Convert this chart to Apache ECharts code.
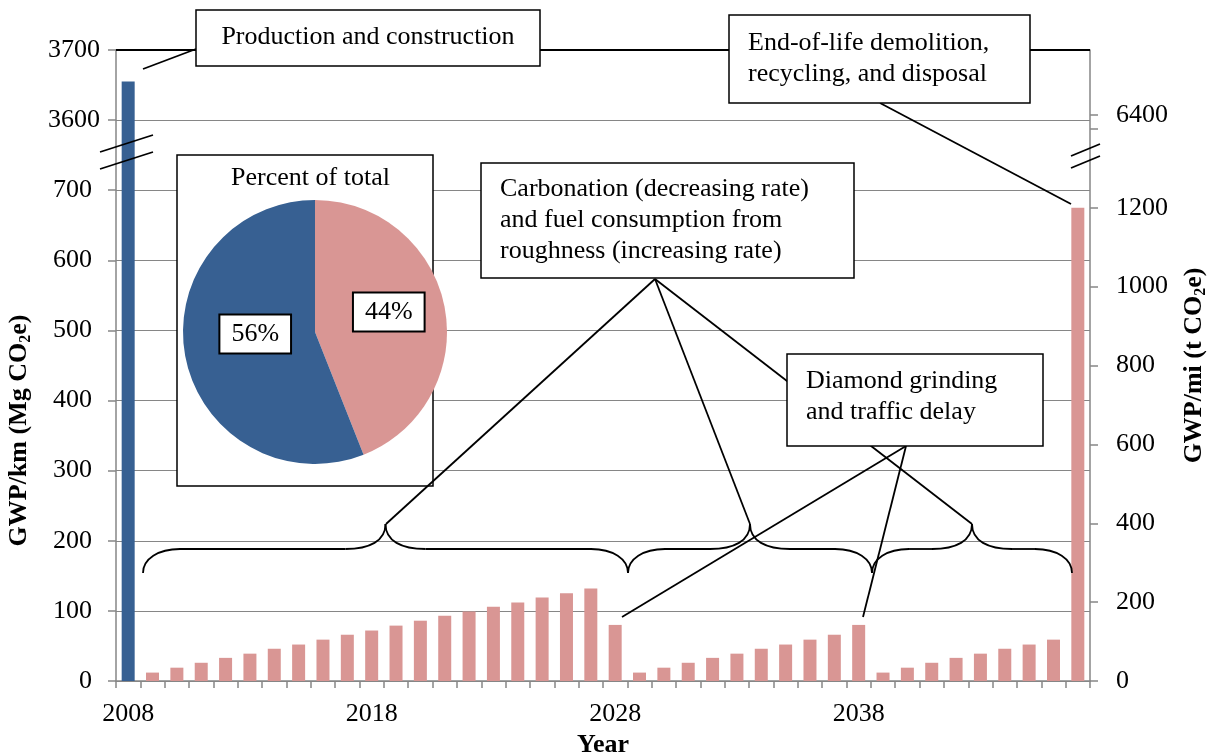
<!DOCTYPE html>
<html><head><meta charset="utf-8">
<script src="https://cdn.jsdelivr.net/npm/echarts@6/dist/echarts.min.js"></script>
<style>html,body{margin:0;padding:0;background:#fff}#c{width:1211px;height:755px}</style>
</head><body><div id="c"></div>
<script>
// ---------------- data ----------------
const years = ['2008','2009','2010','2011','2012','2013','2014','2015','2016','2017',
  '2018','2019','2020','2021','2022','2023','2024','2025','2026','2027',
  '2028','2029','2030','2031','2032','2033','2034','2035','2036','2037',
  '2038','2039','2040','2041','2042','2043','2044','2045','2046','2047'];
const productionValue = 3655;            // 2008, Mg CO2e / km
const useValues = [12,19,26,33,39,46,52,59,66,72,79,86,93,99,106,112,119,125,132,80,   // 2009-2028
  12,19,26,33,39,46,52,59,66,80,                                                         // 2029-2038
  12,19,26,33,39,46,52,59];                                                              // 2039-2046
const endOfLifeValue = 675;              // 2047
const pieNames = ['Use and end-of-life', 'Production and construction'];
const pieValues = [44, 56];
const leftTickLabels = [0,100,200,300,400,500,600,700,3600,3700];
const rightTickLabels = [0,200,400,600,800,1000,1200];
const rightBreakLabel = 6400;

// broken axes: values above the break are shifted down
const LEFT_BREAK = 700, LEFT_SHIFT = 2800;
const toLeft = v => v > LEFT_BREAK ? v - LEFT_SHIFT : v;
const fromLeft = v => v > LEFT_BREAK ? v + LEFT_SHIFT : v;
const RIGHT_BREAK = 1400, RIGHT_SHIFT = 4965;
const toRight = v => v > RIGHT_BREAK ? v - RIGHT_SHIFT : v;
const fromRight = v => v > RIGHT_BREAK ? v + RIGHT_SHIFT : v;

const FONT = 'Liberation Serif';
const BLUE = '#376092', PINK = '#D99694', GRID = '#868686';
const last = years.length - 1;
const blueData = years.map((y, i) => i === 0 ? toLeft(productionValue) : '-');
const pinkData = years.map((y, i) => i === 0 ? '-' : (i === last ? endOfLifeValue : useValues[i - 1]));

// ---------------- annotations ----------------
const G = [];
function box(x, y, w, h, z) {
  G.push({type: 'rect', z: z || 5, shape: {x, y, width: w, height: h},
    style: {fill: '#fff', stroke: '#000', lineWidth: 1.5}});
}
function txt(x, y, text, align, z) {
  G.push({type: 'text', z: z || 6, x, y, style: {text, fill: '#000', font: '26px "' + FONT + '"',
    textAlign: align || 'left', textVerticalAlign: 'middle', align: align || 'left', verticalAlign: 'middle', lineHeight: 31}});
}
function ln(x1, y1, x2, y2, z) {
  G.push({type: 'line', z: z || 4, shape: {x1, y1, x2, y2}, style: {stroke: '#000', lineWidth: 1.8}});
}
function bez(x1, y1, cpx1, cpy1, cpx2, cpy2, x2, y2) {
  G.push({type: 'bezierCurve', z: 4, shape: {x1, y1, cpx1, cpy1, cpx2, cpy2, x2, y2},
    style: {stroke: '#000', lineWidth: 1.8, fill: null}});
}
function brace(x0, x1) {
  const yEnd = 573, yFlat = 549, yTip = 524, xm = (x0 + x1) / 2, ew = 37, mw = 40;
  bez(x0, yEnd, x0, yEnd - 14, x0 + 15, yFlat, x0 + ew, yFlat);
  ln(x0 + ew, yFlat, xm - mw, yFlat);
  bez(xm - mw, yFlat, xm - 16, yFlat, xm, yFlat - 8, xm, yTip);
  bez(xm, yTip, xm, yFlat - 8, xm + 16, yFlat, xm + mw, yFlat);
  ln(xm + mw, yFlat, x1 - ew, yFlat);
  bez(x1 - ew, yFlat, x1 - 15, yFlat, x1, yEnd - 14, x1, yEnd);
}
// top frame line
ln(116, 50, 1090, 50, 3);
// axis break marks
ln(100, 152, 153, 135, 4); ln(100, 169, 153, 152, 4);
ln(1071, 156, 1100, 144, 4); ln(1071, 168, 1100, 156, 4);
// pie frame
box(177, 155, 256, 331, 1);
txt(310.5, 178, 'Percent of total', 'center', 3);
// callouts
box(196, 10, 344, 56); txt(368, 37, 'Production and construction', 'center');
ln(143, 69, 196, 49);
box(729, 15, 301, 88); txt(748, 59, 'End-of-life demolition,\nrecycling, and disposal');
ln(880, 103, 1071, 204);
box(481, 163, 373, 115); txt(500, 220.5, 'Carbonation (decreasing rate)\nand fuel consumption from\nroughness (increasing rate)');
ln(655, 279, 386, 524); ln(655, 279, 750, 524); ln(655, 279, 972, 524);
box(787, 354, 256, 92); txt(806, 397, 'Diamond grinding\nand traffic delay');
ln(906, 446, 622, 617); ln(906, 446, 863, 617);
brace(143, 628); brace(628, 872); brace(872, 1072);

const nameStyle = {fontFamily: FONT, fontSize: 26, fontWeight: 'bold', color: '#000', lineHeight: 30,
  rich: {s: {fontFamily: FONT, fontSize: 16, fontWeight: 'bold', color: '#000', verticalAlign: 'bottom', lineHeight: 16}}};

// small nudges of the pie's inside labels (pixels)
const pieLabelNudge = [[6, -7], [8, -11]];

const chart = echarts.init(document.getElementById('c'), null, {renderer: 'canvas'});
chart.setOption({
  animation: false,
  backgroundColor: '#fff',
  grid: {left: 116, right: 121, top: 50, bottom: 74, containLabel: false, outerBoundsMode: 'none'},
  xAxis: {
    type: 'category', data: years, boundaryGap: true,
    axisLine: {show: true, lineStyle: {color: GRID, width: 1.5}},
    axisTick: {show: true, interval: 0, length: 7, inside: false, alignWithLabel: false, lineStyle: {color: GRID, width: 1.5}},
    axisLabel: {interval: 9, margin: 20, fontFamily: FONT, fontSize: 26, color: '#000'},
    splitLine: {show: false},
    name: 'Year', nameLocation: 'middle', nameGap: 48,
    nameTextStyle: {fontFamily: FONT, fontSize: 26, fontWeight: 'bold', color: '#000'}
  },
  yAxis: [{
    type: 'value', position: 'left', min: 0, max: toLeft(leftTickLabels[leftTickLabels.length - 1]), interval: 100,
    axisLine: {show: true, lineStyle: {color: GRID, width: 1.5}},
    axisTick: {show: true, length: 8, inside: false, lineStyle: {color: GRID, width: 1.5}},
    axisLabel: {margin: 16, fontFamily: FONT, fontSize: 26, color: '#000',
      customValues: leftTickLabels.map(toLeft),
      formatter: v => { const r = fromLeft(v); return r > LEFT_BREAK ? '{b|' + r + '}' : '{n|' + r + '}'; },
      rich: {n: {fontFamily: FONT, fontSize: 26, color: '#000', padding: [0, 8, 0, 0]},
             b: {fontFamily: FONT, fontSize: 26, color: '#000'}}},
    splitLine: {show: true, lineStyle: {color: GRID, width: 1.2}},
    name: 'GWP/km (Mg CO{s|2}e)', nameLocation: 'middle', nameRotate: 90, nameGap: 82,
    nameTextStyle: Object.assign({}, nameStyle, {padding: [0, 130, 0, 0]})
  }, {
    type: 'value', position: 'right', min: 0, max: 1600,
    axisLine: {show: true, lineStyle: {color: GRID, width: 1.5}},
    axisTick: {show: true, length: 8, inside: false, lineStyle: {color: GRID, width: 1.5},
      customValues: rightTickLabels.concat([RIGHT_BREAK, toRight(rightBreakLabel)])},
    axisLabel: {margin: 26, fontFamily: FONT, fontSize: 26, color: '#000',
      customValues: rightTickLabels.concat([toRight(rightBreakLabel)]),
      formatter: v => String(fromRight(v))},
    splitLine: {show: false},
    name: 'GWP/mi (t CO{s|2}e)', nameLocation: 'middle', nameRotate: 90, nameGap: 87,
    nameTextStyle: nameStyle
  }],
  series: [{
    type: 'bar', name: 'Production and construction', data: blueData, yAxisIndex: 0,
    barWidth: 13, barGap: '-100%', itemStyle: {color: BLUE}, z: 2
  }, {
    type: 'bar', name: 'Use and end-of-life', data: pinkData, yAxisIndex: 0,
    barWidth: 13, barGap: '-100%', itemStyle: {color: PINK}, z: 2
  }, {
    type: 'pie', center: [315, 332], radius: 132, startAngle: 90, clockwise: true, z: 2,
    data: pieNames.map((n, i) => ({name: n, value: pieValues[i], itemStyle: {color: i === 0 ? PINK : BLUE}})),
    itemStyle: {borderWidth: 0},
    label: {show: true, position: 'inside', formatter: '{c}%', fontFamily: FONT, fontSize: 26, color: '#000',
      backgroundColor: '#fff', borderColor: '#000', borderWidth: 2, padding: [6, 11, 5, 11]},
    labelLayout: p => ({dx: pieLabelNudge[p.dataIndex][0], dy: pieLabelNudge[p.dataIndex][1]}),
    labelLine: {show: false}, emphasis: {disabled: true}, silent: true
  }],
  graphic: {elements: G}
});
</script></body></html>
